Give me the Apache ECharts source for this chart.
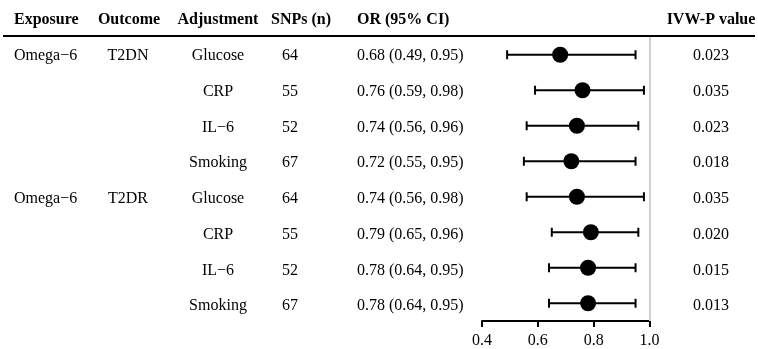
<!DOCTYPE html>
<html>
<head>
<meta charset="utf-8">
<script src="https://cdn.jsdelivr.net/npm/echarts@6/dist/echarts.min.js"></script>
<style>
  html, body { margin: 0; padding: 0; background: #fff; }
  #chart { width: 758px; height: 349px; }
</style>
</head>
<body>
<div id="chart"></div>
<script>
// ---- data ----
const exposures   = ['Omega\u22126', '', '', '', 'Omega\u22126', '', '', ''];
const outcomes    = ['T2DN', '', '', '', 'T2DR', '', '', ''];
const adjustments = ['Glucose', 'CRP', 'IL\u22126', 'Smoking', 'Glucose', 'CRP', 'IL\u22126', 'Smoking'];
const snps        = [64, 55, 52, 67, 64, 55, 52, 67];
const orValues    = [0.68, 0.76, 0.74, 0.72, 0.74, 0.79, 0.78, 0.78];
const ciLower     = [0.49, 0.59, 0.56, 0.55, 0.56, 0.65, 0.64, 0.64];
const ciUpper     = [0.95, 0.98, 0.96, 0.95, 0.98, 0.96, 0.95, 0.95];
const ivwP        = ['0.023', '0.035', '0.023', '0.018', '0.035', '0.020', '0.015', '0.013'];
const headers     = ['Exposure', 'Outcome', 'Adjustment', 'SNPs (n)', 'OR (95% CI)', 'IVW-P value'];
const xTicks      = [0.4, 0.6, 0.8, 1.0];

// ---- layout ----
const FONT = '"Liberation Serif", "Times New Roman", serif';
const FS = 16;
const GRID_TOP = 37, GRID_BOTTOM = 26;
const PLOT_LEFT = 482, PLOT_RIGHT = 108.5;
// column anchor x (in table pixel coordinates) and alignment
const cols = [
  { x: 14,  align: 'left' },
  { x: 128, align: 'center' },
  { x: 218, align: 'center' },
  { x: 290, align: 'center' },
  { x: 357, align: 'left' },
  { x: 711, align: 'center' }
];
const headerCols = [
  { x: 14,  align: 'left' },
  { x: 129, align: 'center' },
  { x: 218, align: 'center' },
  { x: 301, align: 'center' },
  { x: 357, align: 'left' },
  { x: 711, align: 'center' }
];

const rowIds = adjustments.map((_, i) => String(i));
const ciText = orValues.map((v, i) =>
  v.toFixed(2) + ' (' + ciLower[i].toFixed(2) + ', ' + ciUpper[i].toFixed(2) + ')');
const columnTexts = [exposures, outcomes, adjustments, snps.map(String), ciText, ivwP];

const textSeries = columnTexts.map((texts, c) => ({
  type: 'scatter',
  xAxisIndex: 1,
  yAxisIndex: 1,
  symbolSize: 0,
  silent: true,
  itemStyle: { opacity: 1 },
  data: texts.map((t, i) => ({ value: [cols[c].x, rowIds[i]], name: t })),
  label: {
    show: true,
    position: 'inside',
    align: cols[c].align,
    verticalAlign: 'middle',
    offset: [0, 1],
    formatter: p => p.name,
    fontFamily: FONT,
    fontSize: FS,
    color: '#000',
    opacity: 1
  }
}));

const chart = echarts.init(document.getElementById('chart'));
chart.setOption({
  animation: false,
  backgroundColor: '#fff',
  grid: [
    { left: PLOT_LEFT, right: PLOT_RIGHT, top: GRID_TOP, bottom: GRID_BOTTOM, containLabel: false },
    { left: 0, right: 0, top: GRID_TOP, bottom: GRID_BOTTOM, containLabel: false }
  ],
  xAxis: [
    {
      type: 'value', gridIndex: 0,
      min: xTicks[0], max: xTicks[xTicks.length - 1], interval: 0.2,
      splitLine: { show: false },
      axisLine: { show: true, onZero: false, lineStyle: { color: '#000', width: 2 } },
      axisTick: { show: true, inside: false, length: 6, lineStyle: { color: '#000', width: 2 } },
      axisLabel: { fontFamily: FONT, fontSize: FS, color: '#000', margin: 12,
                   formatter: v => v.toFixed(1) }
    },
    { type: 'value', gridIndex: 1, min: 0, max: 758, show: false }
  ],
  yAxis: [
    { type: 'category', gridIndex: 0, data: rowIds, inverse: true, show: false },
    { type: 'category', gridIndex: 1, data: rowIds, inverse: true, show: false }
  ],
  graphic: [
    {
      type: 'line', silent: true,
      shape: { x1: 3, y1: 36, x2: 755, y2: 36 },
      style: { stroke: '#000', lineWidth: 2 }
    }
  ].concat(headers.map((h, c) => ({
    type: 'text', silent: true,
    x: headerCols[c].x, y: 20,
    style: {
      text: h, fill: '#000', font: 'bold ' + FS + 'px ' + FONT,
      align: headerCols[c].align, verticalAlign: 'middle'
    }
  }))),
  series: [
    {
      type: 'custom',
      xAxisIndex: 0, yAxisIndex: 0,
      silent: true,
      data: ciLower.map((lo, i) => [lo, ciUpper[i], i]),
      encode: { x: [0, 1], y: 2 },
      renderItem: function (params, api) {
        const row = api.value(2);
        const p1 = api.coord([api.value(0), row]);
        const p2 = api.coord([api.value(1), row]);
        const h = 4.5;
        const st = { stroke: '#000', lineWidth: 2 };
        return {
          type: 'group',
          children: [
            { type: 'line', shape: { x1: p1[0], y1: p1[1], x2: p2[0], y2: p2[1] }, style: st },
            { type: 'line', shape: { x1: p1[0], y1: p1[1] - h, x2: p1[0], y2: p1[1] + h }, style: st },
            { type: 'line', shape: { x1: p2[0], y1: p2[1] - h, x2: p2[0], y2: p2[1] + h }, style: st }
          ]
        };
      }
    },
    {
      type: 'scatter',
      xAxisIndex: 0, yAxisIndex: 0,
      silent: true,
      symbol: 'circle',
      symbolSize: 16,
      itemStyle: { color: '#000', opacity: 1 },
      data: orValues.map((v, i) => [v, rowIds[i]]),
      markLine: {
        silent: true,
        symbol: 'none',
        label: { show: false },
        lineStyle: { color: '#d0d0d0', width: 2, type: 'solid' },
        data: [{ xAxis: 1.0 }]
      },
      z: 3
    }
  ].concat(textSeries)
});
</script>
</body>
</html>
